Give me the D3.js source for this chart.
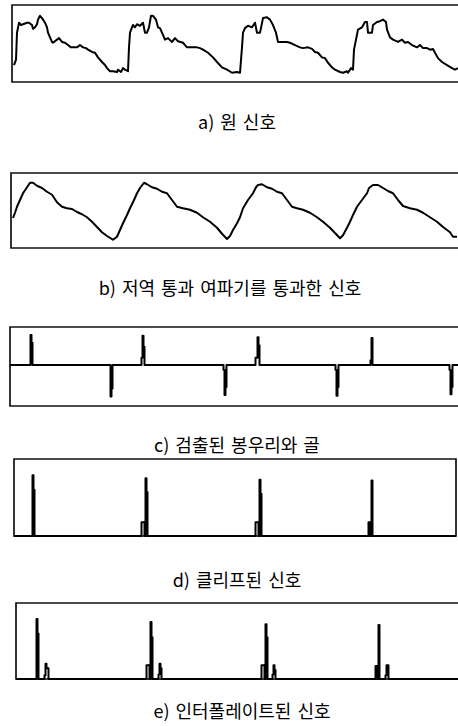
<!DOCTYPE html>
<html>
<head>
<meta charset="utf-8">
<script src="https://cdn.jsdelivr.net/npm/d3@7"></script>
<style>
  html, body { margin: 0; padding: 0; background: #fff; overflow: hidden; }
  svg { display: block; overflow: hidden; }
</style>
</head>
<body>
<svg id="chart" width="458" height="726"></svg>
<script>
// Captions under each panel
const captions = [
  "a) 원 신호",
  "b) 저역 통과 여파기를 통과한 신호",
  "c) 검출된 봉우리와 골",
  "d) 클리프된 신호",
  "e) 인터폴레이트된 신호"
];

// a) raw signal: [sample, amplitude 0..100]
const rawSignal = [
  [6,22],[8,29],[9,64],[11,77],[13,74],[15,75],[19,77],[21,77],[24,74],[25,69],[27,71],[29,75],
  [30,81],[32,86],[34,83],[35,81],[37,77],[39,71],[40,64],[42,58],[44,52],[45,51],[49,55],[51,57],
  [54,52],[57,51],[60,48],[63,45],[65,45],[69,45],[72,48],[75,45],[78,44],[80,42],[84,39],[87,38],
  [90,32],[94,26],[97,22],[99,18],[102,14],[105,14],[109,13],[110,16],[113,13],[115,18],[117,16],[120,14],
  [121,45],[122,64],[124,71],[125,74],[127,71],[129,75],[132,73],[135,77],[137,64],[139,64],[141,71],[143,86],
  [145,86],[148,81],[150,71],[152,70],[154,64],[157,55],[160,57],[164,52],[167,57],[170,53],[175,51],[179,45],
  [184,45],[189,45],[192,44],[195,42],[200,38],[205,32],[209,26],[214,19],[219,16],[224,12],[229,13],[232,12],
  [234,45],[235,64],[237,70],[240,73],[244,71],[247,77],[249,64],[252,64],[255,83],[259,84],[262,81],[265,74],
  [268,64],[270,52],[274,52],[279,52],[282,51],[287,48],[292,45],[295,44],[300,45],[304,43],[307,39],[310,38],
  [314,32],[317,31],[320,25],[324,19],[327,16],[332,13],[335,12],[339,14],[340,12],[343,18],[345,16],
  [346,42],[348,55],[350,68],[354,71],[357,78],[359,78],[360,64],[364,64],[365,74],[369,78],[372,79],[375,81],
  [378,78],[379,68],[382,58],[385,55],[390,52],[394,55],[397,51],[400,52],[404,48],[409,45],[412,48],[415,44],
  [419,44],[422,42],[425,43],[427,38],[430,31],[434,26],[439,22],[444,18],[447,16],[450,18]
];

// b) low-pass filtered signal: [sample, amplitude 0..100]
const lowpassSignal = [
  [5,40],[7,47],[9,55],[12,64],[15,73],[19,81],[22,87],[25,87],[29,83],[34,80],[39,75],[44,71],
  [49,61],[54,55],[59,53],[64,52],[69,48],[74,45],[79,41],[84,35],[89,28],[94,21],[99,16],[105,11],
  [109,15],[112,24],[115,33],[119,44],[122,53],[125,61],[129,73],[132,80],[136,87],[139,85],[144,81],[149,79],
  [154,75],[159,73],[164,64],[169,55],[175,53],[182,51],[189,47],[195,41],[202,35],[209,27],[214,19],[219,12],
  [222,16],[225,24],[229,33],[232,41],[235,53],[240,64],[245,73],[248,81],[250,84],[254,85],[259,81],[264,79],
  [269,75],[274,73],[279,64],[284,55],[289,53],[295,51],[302,47],[309,41],[315,35],[322,27],[327,20],[332,13],
  [335,17],[339,27],[342,35],[345,44],[349,55],[354,64],[359,73],[361,80],[365,84],[370,84],[375,80],[380,76],
  [385,73],[390,64],[395,56],[402,53],[409,51],[415,47],[422,41],[429,35],[435,28],[442,21],[445,15],[449,15]
];

// c) detected peaks (+) and valleys (-): [sample, amplitude]
const peaksValleys = [
  [23,38],[24,28],
  [103,-40],[104,-30],
  [134,9],[135,37],[136,23],
  [216,-6],[217,-38],[218,-28],
  [248,9],[249,9],[250,35],[251,25],
  [328,-6],[329,-39],[330,-28],
  [363,6],[364,34],
  [442,-6],[443,-37],[444,-28]
];

// d) clipped signal: [sample, amplitude 0..100]
const clippedSignal = [
  [25,79],[26,60],
  [134,18],[135,18],[136,18],[138,75],[139,57],
  [248,18],[249,18],[250,18],[252,73],[253,55],
  [361,18],[362,18],[364,72]
];

// e) interpolated signal: [sample, amplitude 0..100]
const interpolatedSignal = [
  [29,79],[30,60],[37,5],[38,20],[39,14],[40,14],
  [139,18],[140,18],[141,18],[143,75],[144,55],[151,6],[152,20],[153,14],
  [254,18],[255,18],[256,18],[258,72],[259,55],[265,6],[266,18],[267,12],
  [368,17],[369,17],[371,71],[378,5],[379,18],[380,18]
];

const sampleRange = [0, 450];

const W = 458, H = 726;
const svg = d3.select("#chart").attr("viewBox", `0 0 ${W} ${H}`);
svg.append("rect").attr("width", W).attr("height", H).attr("fill", "#fff");

const x = d3.scaleLinear().domain(sampleRange).range([8, 458]);

// Panel frames (closed = has a right edge) and caption positions
const panels = [
  { key: "a", data: rawSignal, kind: "wave", left: 12, right: 458, closed: false, top: 5, bottom: 82, yDomain: [0, 100], capX: 237, capY: 121 },
  { key: "b", data: lowpassSignal, kind: "wave", left: 11, right: 458, closed: false, top: 173, bottom: 248, yDomain: [0, 100], capX: 230, capY: 287 },
  { key: "c", data: peaksValleys, kind: "pulse", left: 10, right: 458, closed: false, top: 327, bottom: 406, yDomain: [-52, 48], capX: 237, capY: 444 },
  { key: "d", data: clippedSignal, kind: "pulse", left: 14, right: 456, closed: true, top: 459, bottom: 536, yDomain: [0, 100], capX: 237, capY: 579 },
  { key: "e", data: interpolatedSignal, kind: "pulse", left: 16, right: 458, closed: false, top: 603, bottom: 679, yDomain: [0, 100], capX: 242, capY: 710 }
];

// Expand a sparse pulse list into a full sample series (zero elsewhere)
function pulseSeries(list) {
  const m = new Map(list.map(d => [d[0], d[1]]));
  return d3.range(sampleRange[0], sampleRange[1] + 1).map(t => [t, m.get(t) || 0]);
}

panels.forEach((p, i) => {
  const y = d3.scaleLinear().domain(p.yDomain).range([p.bottom, p.top]);
  const g = svg.append("g").attr("class", "panel-" + p.key);

  const clipId = "clip-" + p.key;
  svg.append("clipPath").attr("id", clipId)
    .append("rect")
    .attr("x", p.left).attr("y", p.top - 2)
    .attr("width", p.right - p.left).attr("height", p.bottom - p.top + 4);

  // frame: top, left, bottom (and right when closed)
  const fp = d3.path();
  if (p.closed) {
    fp.moveTo(p.right, p.top); fp.lineTo(p.left, p.top); fp.lineTo(p.left, p.bottom);
    fp.lineTo(p.right, p.bottom); fp.closePath();
  } else {
    fp.moveTo(p.right + 2, p.top); fp.lineTo(p.left, p.top);
    fp.lineTo(p.left, p.bottom); fp.lineTo(p.right + 2, p.bottom);
  }
  g.append("path")
    .attr("d", fp.toString())
    .attr("fill", "none").attr("stroke", "#111").attr("stroke-width", 1.7);

  let series, line;
  if (p.kind === "wave") {
    series = p.data;
    line = d3.line().x(d => x(d[0])).y(d => y(d[1]));
  } else {
    series = pulseSeries(p.data);
    line = d3.line().x(d => x(d[0])).y(d => y(d[1])).curve(d3.curveStep);
  }

  g.append("path")
    .datum(series)
    .attr("clip-path", `url(#${clipId})`)
    .attr("d", line)
    .attr("fill", "none")
    .attr("stroke", "#000")
    .attr("stroke-width", 2)
    .attr("stroke-linejoin", "round");

  svg.append("text")
    .attr("x", p.capX).attr("y", p.capY)
    .attr("text-anchor", "middle")
    .attr("dominant-baseline", "central")
    .attr("font-family", "'Noto Sans CJK KR', 'Noto Sans', sans-serif")
    .attr("font-size", 18)
    .attr("word-spacing", 2)
    .attr("fill", "#000")
    .text(captions[i]);
});
</script>
</body>
</html>
